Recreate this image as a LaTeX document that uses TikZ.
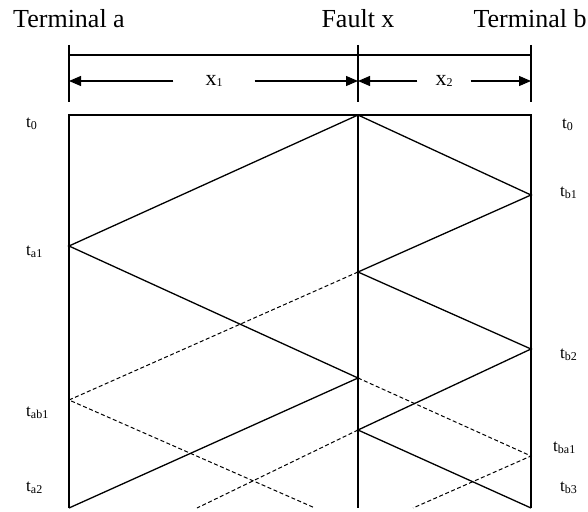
\documentclass[tikz,border=0pt]{standalone}
\usepackage{fontspec}
\setmainfont{Liberation Serif}
\usetikzlibrary{arrows.meta}

\newcommand{\tsub}[1]{{\fontsize{12}{12}\selectfont\raisebox{-1.5pt}{#1}}}

\begin{document}
\begin{tikzpicture}[x=1pt, y=-1pt,
    wave/.style={line width=1.3pt},
    refl/.style={line width=1pt, dash pattern=on 4pt off 2.5pt},
    tlabel/.style={anchor=west, inner sep=0pt, font=\fontsize{17}{17}\selectfont},
    title/.style={anchor=base, inner sep=0pt, font=\fontsize{26}{26}\selectfont},
    dimarrow/.style={-{Triangle[length=12pt,width=10pt]}, line width=1.1pt}]
    \useasboundingbox (0,0) rectangle (588,511);

    % Line ends and fault point
    \coordinate (A0) at (69,115);
    \coordinate (F0) at (358,115);
    \coordinate (B0) at (531,115);
    \coordinate (Aend) at (69,508);
    \coordinate (Fend) at (358,508);
    \coordinate (Bend) at (531,508);

    % Reflection points
    \coordinate (A1) at (69,246);
    \coordinate (A2) at (69,400);
    \coordinate (B1) at (531,195);
    \coordinate (B2) at (531,349);
    \coordinate (B3) at (531,456);
    \coordinate (F1) at (358,272);
    \coordinate (F2) at (358,378);
    \coordinate (F3) at (358,430);

    % Open ends at the bottom
    \coordinate (Ea) at (315,508);
    \coordinate (Eb) at (197,508);
    \coordinate (Ec) at (413,508);

    % Titles
    \node[title] (terma) at (69,28) {Terminal a};
    \node[title] (fault) at (358,28) {Fault x};
    \node[title] (termb) at (530,28) {Terminal b};

    % Dimension lines
    \coordinate (Ta) at (69,45);   \coordinate (Ba) at (69,102);
    \coordinate (Tf) at (358,45);  \coordinate (Bf) at (358,102);
    \coordinate (Tb) at (531,45);  \coordinate (Bb) at (531,102);
    \coordinate (Ha) at (69,55);   \coordinate (Hb) at (531,55);
    \coordinate (Da) at (69,81);   \coordinate (Df) at (358,81);
    \coordinate (Db) at (531,81);
    \draw[line width=1.1pt] (Ta) -- (Ba);
    \draw[line width=1.1pt] (Tf) -- (Bf);
    \draw[line width=1.1pt] (Tb) -- (Bb);
    \draw[line width=1.1pt] (Ha) -- (Hb);
    \node[inner xsep=32pt, inner ysep=0pt, font=\fontsize{22}{22}\selectfont] (x1) at (214,81) {x\tsub{1}};
    \node[inner xsep=18pt, inner ysep=0pt, font=\fontsize{22}{22}\selectfont] (x2) at (444,81) {x\tsub{2}};
    \draw[dimarrow] (x1.west) -- (Da);
    \draw[dimarrow] (x1.east) -- (Df);
    \draw[dimarrow] (x2.west) -- (Df);
    \draw[dimarrow] (x2.east) -- (Db);

    % Line sections
    \draw[wave] (Aend) -- (A0) -- (B0) -- (Bend);
    \draw[wave] (F0) -- (Fend);

    % Reflected waves
    \draw[wave] (F0) -- (A1) -- (F2) -- (Aend);
    \draw[wave] (F0) -- (B1) -- (F1) -- (B2) -- (F3) -- (Bend);

    % Transmitted waves
    \draw[refl] (F1) -- (A2) -- (Ea);
    \draw[refl] (F2) -- (B3) -- (Ec);
    \draw[refl] (F3) -- (Eb);

    % Time labels
    \node[tlabel] (ta0) at (26,124) {t\tsub{0}};
    \node[tlabel] (ta1) at (26,252) {t\tsub{a1}};
    \node[tlabel] (tab1) at (26,413) {t\tsub{ab1}};
    \node[tlabel] (ta2) at (26,488) {t\tsub{a2}};
    \node[tlabel] (tb0) at (562,125) {t\tsub{0}};
    \node[tlabel] (tb1) at (560,193) {t\tsub{b1}};
    \node[tlabel] (tb2) at (560,355) {t\tsub{b2}};
    \node[tlabel] (tba1) at (553,448) {t\tsub{ba1}};
    \node[tlabel] (tb3) at (560,488) {t\tsub{b3}};
\end{tikzpicture}
\end{document}
